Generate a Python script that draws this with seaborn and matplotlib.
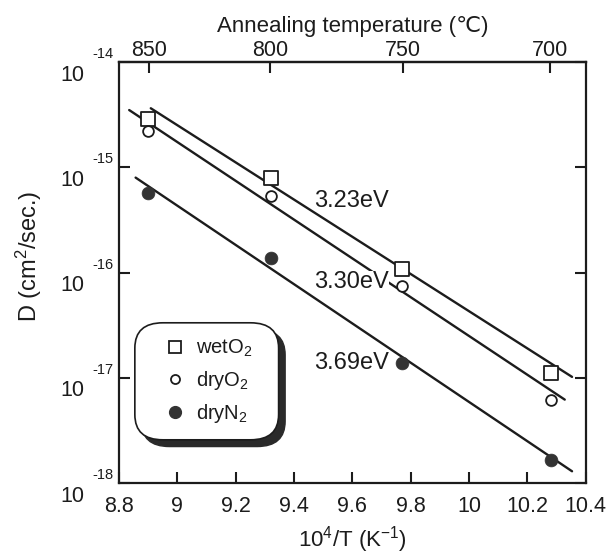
import numpy as np
import pandas as pd
import matplotlib
matplotlib.use('Agg')
import matplotlib.pyplot as plt
import seaborn as sns
from matplotlib.lines import Line2D
from matplotlib.patches import FancyBboxPatch

# measured points (x = 10^4/T, y = log10 D)
inv_T = [8.90, 9.32, 9.77, 10.28]
logD_wetO2 = [-14.54, -15.10, -15.96, -16.95]
logD_dryO2 = [-14.65, -15.27, -16.13, -17.21]
logD_dryN2 = [-15.24, -15.86, -16.86, -17.78]

# fitted lines (end points)
fit_x_wetO2 = [8.909, 10.353]
fit_y_wetO2 = [-14.437, -16.99]
fit_x_dryO2 = [8.835, 10.328]
fit_y_dryO2 = [-14.454, -17.206]
fit_x_dryN2 = [8.857, 10.353]
fit_y_dryN2 = [-15.096, -17.887]

# activation energy labels
ea_text = ['3.23eV', '3.30eV', '3.69eV']
ea_x = [9.596, 9.596, 9.596]
ea_y = [-15.32, -16.086, -16.86]

temp_ticks = [850, 800, 750, 700]
decades = [-18, -17, -16, -15, -14]

sns.set_theme(style='ticks')
plt.rcParams['font.family'] = ['Liberation Sans', 'DejaVu Sans']
plt.rcParams['mathtext.fontset'] = 'custom'
plt.rcParams['mathtext.rm'] = 'Liberation Sans'
plt.rcParams['mathtext.it'] = 'Liberation Sans:italic'
plt.rcParams['mathtext.default'] = 'regular'

pts = pd.DataFrame({'x': inv_T,
                    'wetO2': 10 ** np.array(logD_wetO2),
                    'dryO2': 10 ** np.array(logD_dryO2),
                    'dryN2': 10 ** np.array(logD_dryN2)})

fig = plt.figure(figsize=(6.07, 5.56), dpi=100)
ax = fig.add_axes([0.196, 0.131, 0.769, 0.757])

ink = '#1c1c1c'
for fx, fy in [(fit_x_wetO2, fit_y_wetO2), (fit_x_dryO2, fit_y_dryO2), (fit_x_dryN2, fit_y_dryN2)]:
    sns.lineplot(x=fx, y=10 ** np.array(fy), ax=ax, color=ink, lw=1.7, sort=False, zorder=2)

sns.scatterplot(data=pts, x='x', y='wetO2', ax=ax, marker='s', s=95, color=ink,
                facecolor='white', edgecolor=ink, linewidth=1.3, zorder=3, legend=False)
sns.scatterplot(data=pts, x='x', y='dryO2', ax=ax, marker='o', s=60, color=ink,
                facecolor='white', edgecolor=ink, linewidth=1.3, zorder=3, legend=False)
sns.scatterplot(data=pts, x='x', y='dryN2', ax=ax, marker='o', s=85, color='#333333',
                edgecolor='#333333', linewidth=0.5, zorder=3, legend=False)

for t, x, y in zip(ea_text, ea_x, ea_y):
    lab = ax.text(x, 10 ** y, t, ha='center', va='center', fontsize=17, color=ink, zorder=4)
    if t == '3.30eV':
        # the dryO2 fit line is broken behind this label in the original
        lab.set_bbox(dict(facecolor='white', edgecolor='none', pad=0.0))

ax.set_yscale('log')
ax.set_xlim(8.8, 10.4)
ax.set_ylim(1e-18, 1e-14)
ax.set_xticks(np.arange(8.8, 10.41, 0.2))
ax.set_xticklabels(['8.8', '9', '9.2', '9.4', '9.6', '9.8', '10', '10.2', '10.4'])
ax.set_yticks([10.0 ** d for d in decades])
ax.set_yticklabels([''] * len(decades))
ax.yaxis.set_minor_locator(matplotlib.ticker.NullLocator())
ax.tick_params(axis='x', direction='in', length=8, width=1.5, labelsize=15.5, pad=9,
               top=False, colors=ink)
ax.tick_params(axis='y', direction='in', length=8, width=1.5, right=True, left=True,
               colors=ink)
for s in ax.spines.values():
    s.set_visible(True)
    s.set_linewidth(1.6)
    s.set_color(ink)

# y tick labels in the "10 / exponent" style of the original
for d in decades:
    ax.annotate('10', xy=(0, 10.0 ** d), xycoords=('axes fraction', 'data'),
                xytext=(-47, -13), textcoords='offset pixels', ha='center', va='center',
                fontsize=15.5, color=ink, annotation_clip=False)
    ax.annotate(str(d), xy=(0, 10.0 ** d), xycoords=('axes fraction', 'data'),
                xytext=(-16, 8), textcoords='offset pixels', ha='center', va='center',
                fontsize=10.5, color=ink, annotation_clip=False)

ax.set_xlabel('10$^{4}$/T (K$^{-1}$)', fontsize=16, color=ink, labelpad=5)
ax.set_ylabel('D (cm$^{2}$/sec.)', fontsize=17, color=ink)
ax.yaxis.set_label_coords(-0.16, 0.54)

# top axis: annealing temperature
top = ax.secondary_xaxis('top', functions=(lambda x: 1e4 / x - 273.15,
                                           lambda c: 1e4 / (c + 273.15)))
top.set_xticks(temp_ticks)
top.set_xticklabels([str(t) for t in temp_ticks])
top.tick_params(direction='in', length=8, width=1.5, labelsize=15.5, pad=1, colors=ink)
top.spines['top'].set_linewidth(1.6)
top.set_xlabel('Annealing temperature (\u2103)', fontsize=16, color=ink, labelpad=6)

# legend with rounded frame and heavy shadow
box = dict(boxstyle='round,pad=0,rounding_size=0.06', transform=ax.transAxes, clip_on=False)
ax.add_patch(FancyBboxPatch((0.048, 0.087), 0.308, 0.278, facecolor='#2a2a2a',
                            edgecolor='#2a2a2a', zorder=5, **box))
ax.add_patch(FancyBboxPatch((0.034, 0.103), 0.308, 0.278, facecolor='white',
                            edgecolor=ink, linewidth=1.2, zorder=6, **box))
handles = [
    Line2D([], [], ls='none', marker='s', ms=9, mfc='white', mec=ink, mew=1.3),
    Line2D([], [], ls='none', marker='o', ms=6.5, mfc='white', mec=ink, mew=1.3),
    Line2D([], [], ls='none', marker='o', ms=8.5, mfc='#333333', mec='#333333'),
]
labels = ['wetO$_2$', 'dryO$_2$', 'dryN$_2$']
leg = ax.legend(handles, labels, loc='center', bbox_to_anchor=(0.19, 0.242),
                frameon=False, fontsize=14.5, handletextpad=0.4, labelspacing=0.5,
                handlelength=1.2)
leg.set_zorder(7)
for txt in leg.get_texts():
    txt.set_color(ink)

fig.savefig('out.png', dpi=100)
